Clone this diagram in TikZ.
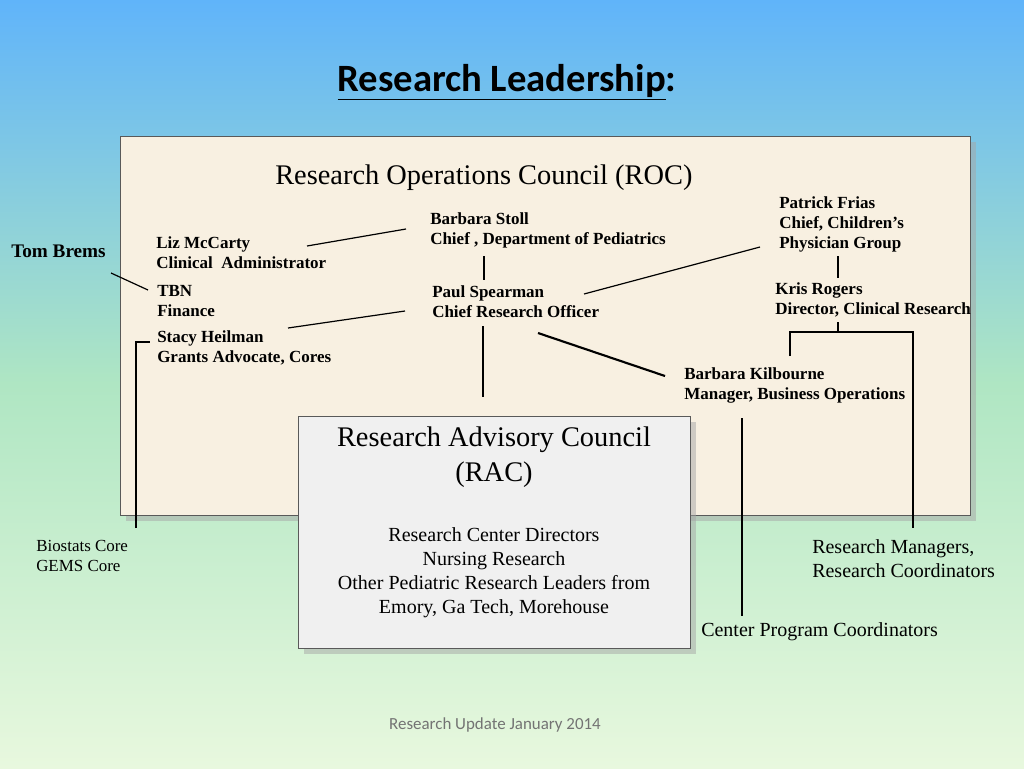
\documentclass[tikz,border=0pt]{standalone}
\usepackage{fontspec}
\setmainfont{Liberation Serif}
\newfontfamily\calib{Carlito}
\usetikzlibrary{shadows}
\definecolor{bgtop}{RGB}{96,180,250}
\definecolor{bgmid}{RGB}{175,230,195}
\definecolor{bgbot}{RGB}{232,248,222}
\definecolor{roc}{RGB}{248,240,225}
\definecolor{rac}{RGB}{240,240,240}
\tikzset{
  lbl/.style={anchor=west,align=left,font=\fontsize{12.75}{15}\selectfont\bfseries,inner sep=0pt},
  big/.style={align=center,font=\fontsize{21.3}{26}\selectfont,inner sep=0pt},
  body/.style={align=left,font=\fontsize{15}{18}\selectfont,inner sep=0pt,anchor=west},
  ln/.style={black,line width=0.9pt},
  panel/.style={draw=gray!70!black,line width=1pt,drop shadow={shadow xshift=4pt,shadow yshift=-4pt,fill=gray!70}}
}
\begin{document}
\begin{tikzpicture}[x=0.75pt,y=-0.75pt]
\shade[top color=bgtop,bottom color=bgbot,middle color=bgmid] (0,0) rectangle (1024,768);
\useasboundingbox (0,0) rectangle (1024,768);
\node[font=\calib\fontsize{29}{32}\selectfont\bfseries] (title) at (507,82) {\underline{Research Leadership}:};
\node[panel,fill=roc,minimum width=850*0.75pt,minimum height=379*0.75pt,anchor=north west,inner sep=0] (rocbox) at (120,136) {};
\node[big,anchor=west] (roc) at (275,178) {Research Operations Council (ROC)};
\node[lbl] (stoll) at (430,230) {Barbara Stoll\\Chief , Department of Pediatrics};
\node[lbl] (frias) at (779,224) {Patrick Frias\\Chief, Children's\\Physician Group};
\node[lbl] (liz) at (156,253) {Liz McCarty\\Clinical\ \ Administrator};
\node[lbl,font=\fontsize{14.4}{16}\selectfont\bfseries] (tom) at (11,251) {Tom Brems};
\node[lbl] (tbn) at (157,301) {TBN\\Finance};
\node[lbl] (paul) at (432,302) {Paul Spearman\\Chief Research Officer};
\node[lbl] (kris) at (775,300) {Kris Rogers\\Director, Clinical Research};
\node[lbl] (stacy) at (157,348) {Stacy Heilman\\Grants Advocate, Cores};
\node[lbl] (kilb) at (684,385) {Barbara Kilbourne\\Manager, Business Operations};
\node[panel,fill=rac,minimum width=392*0.75pt,minimum height=232*0.75pt,anchor=north west,inner sep=0] (racbox) at (298,416) {};
\node[big] (rac) at (494,457) {Research Advisory Council\\(RAC)};
\node[align=center,font=\fontsize{15}{18}\selectfont,inner sep=0] (racbody) at (494,573) {Research Center Directors\\Nursing Research\\Other Pediatric Research Leaders from\\Emory, Ga Tech, Morehouse};
\node[body,font=\fontsize{12.7}{15}\selectfont] (bio) at (36,556) {Biostats Core\\GEMS Core};
\node[body] (rm) at (812,559) {Research Managers,\\Research Coordinators};
\node[body] (cpc) at (701,632) {Center Program Coordinators};
\node[font=\calib\fontsize{12.7}{14}\selectfont,text=gray!90!black] (foot) at (495,725) {Research Update January 2014};
% connectors
\coordinate (a1) at (307,246); \coordinate (a2) at (406,229);
\draw[ln] (a1) -- (a2);
\coordinate (b1) at (484,256); \coordinate (b2) at (484,280);
\draw[ln] (b1) -- (b2);
\coordinate (c1) at (838,256); \coordinate (c2) at (838,278);
\draw[ln] (c1) -- (c2);
\coordinate (d1) at (584,294); \coordinate (d2) at (760,247);
\draw[ln] (d1) -- (d2);
\coordinate (e1) at (111,273); \coordinate (e2) at (148,290);
\draw[ln] (e1) -- (e2);
\coordinate (f1) at (288,328); \coordinate (f2) at (405,311);
\draw[ln] (f1) -- (f2);
\coordinate (g1) at (483,326); \coordinate (g2) at (483,397);
\draw[ln] (g1) -- (g2);
\coordinate (h1) at (538,333); \coordinate (h2) at (665,376);
\draw[ln,line width=1.6pt] (h1) -- (h2);
\coordinate (k0) at (838,322); \coordinate (k1) at (838,333);
\draw[ln] (k0) -- (k1);
\coordinate (m1) at (790,356); \coordinate (m2) at (913,528);
\draw[ln] (m1) -- (790,332) -- (913,332) -- (m2);
\coordinate (n1) at (136,528); \coordinate (n2) at (150,342);
\draw[ln] (n1) -- (136,342) -- (n2);
\coordinate (p1) at (742,418); \coordinate (p2) at (742,616);
\draw[ln] (p1) -- (p2);
\end{tikzpicture}
\end{document}
